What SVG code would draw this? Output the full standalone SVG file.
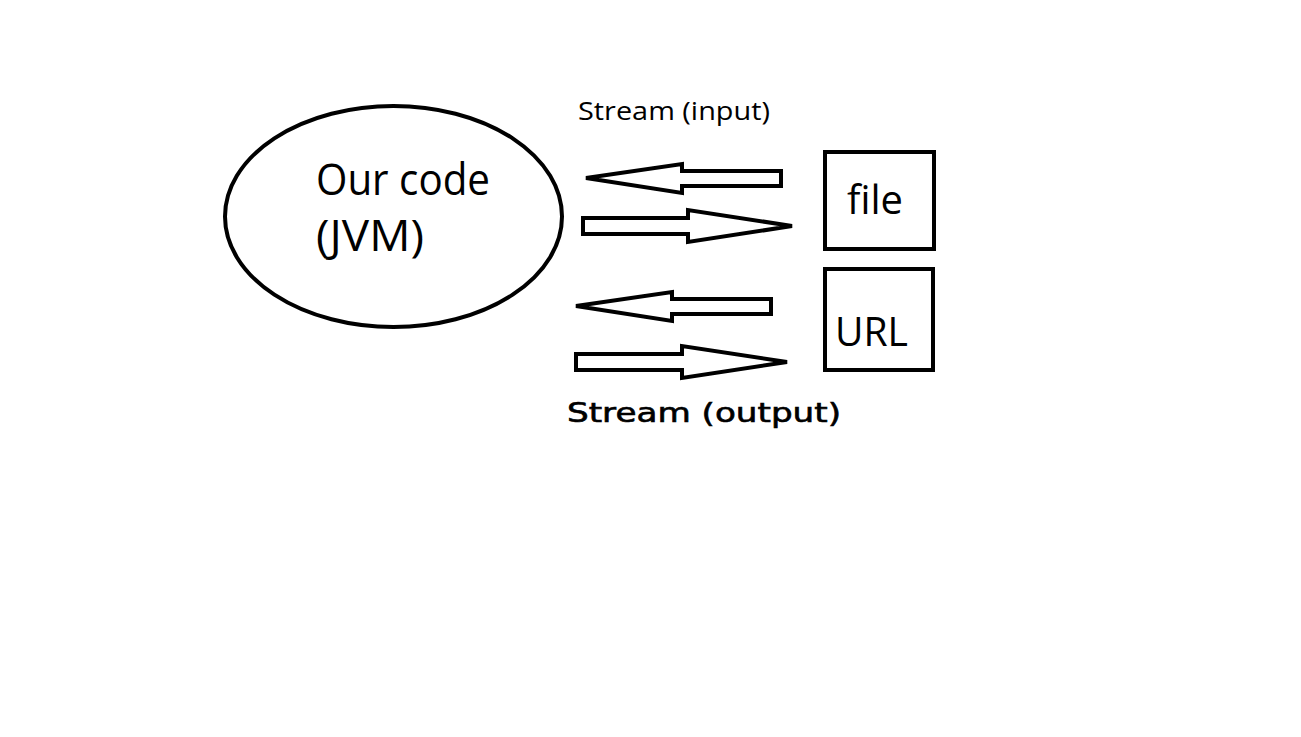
<svg xmlns="http://www.w3.org/2000/svg" width="1301" height="737" viewBox="0 0 1301 737">
<style>
.shape{fill:#fff;stroke:#000;stroke-width:4;stroke-linejoin:miter}
.arrow{fill:#fff;stroke:#000;stroke-width:4;stroke-linejoin:miter}
.lbl{font-family:"Open Sans","Noto Sans",sans-serif;fill:#000}
.out{font-family:"DejaVu Sans","Noto Sans",sans-serif;fill:#000;stroke:#000;stroke-width:0.6}
</style>
<rect width="1301" height="737" fill="#fff"/>
<g id="node-jvm">
<ellipse class="shape" cx="393.5" cy="216.5" rx="168.5" ry="110.5"/>
<text class="lbl" x="316" y="195" font-size="43" textLength="174" lengthAdjust="spacingAndGlyphs">Our code</text>
<text class="lbl" x="316" y="251" font-size="43" textLength="108" lengthAdjust="spacingAndGlyphs">(JVM)</text>
</g>
<g id="node-file">
<rect class="shape" x="825" y="152" width="109" height="97"/>
<text class="lbl" x="847" y="214" font-size="41" textLength="56" lengthAdjust="spacingAndGlyphs">file</text>
</g>
<g id="node-url">
<rect class="shape" x="825" y="269" width="108" height="101"/>
<text class="lbl" x="835" y="346" font-size="41" textLength="73" lengthAdjust="spacingAndGlyphs">URL</text>
</g>
<g id="connectors">
<polygon class="arrow" points="586,178 682,164 682,171 781,171 781,186 682,186 682,193"/>
<polygon class="arrow" points="583,218 688,218 688,210 792,226 688,242 688,234 583,234"/>
<polygon class="arrow" points="576,306 672,292 672,299 771,299 771,314 672,314 672,321"/>
<polygon class="arrow" points="576,354 682,354 682,346 787,362 682,378 682,370 576,370"/>
</g>
<g id="labels">
<text class="lbl" x="578" y="120" font-size="26" textLength="192" lengthAdjust="spacingAndGlyphs">Stream (input)</text>
<text class="out" x="567" y="422" font-size="26" textLength="274" lengthAdjust="spacingAndGlyphs">Stream (output)</text>
</g>
</svg>
